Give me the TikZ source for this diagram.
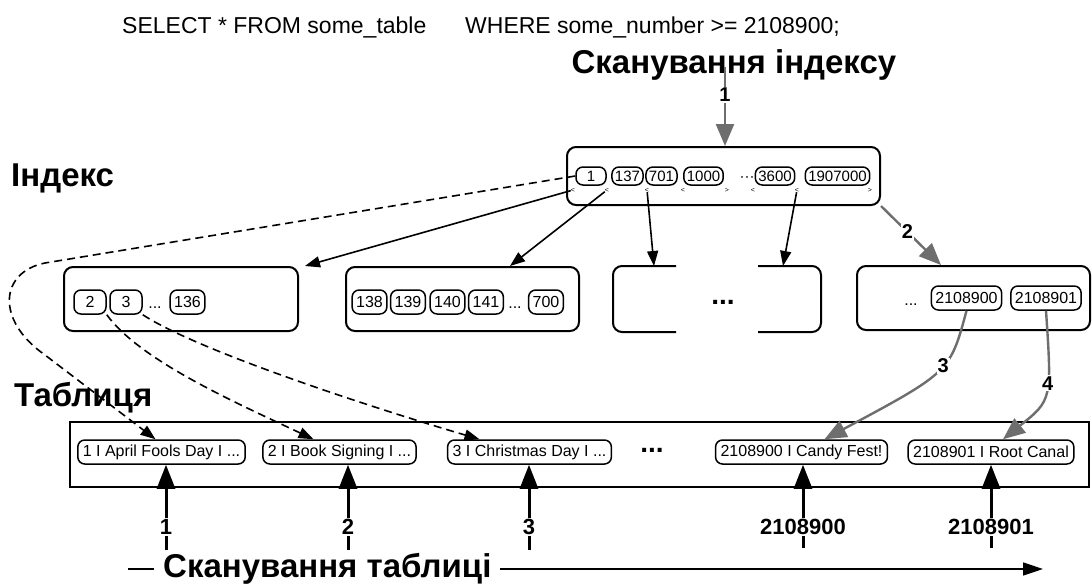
\documentclass[tikz,border=0pt]{standalone}
\usepackage{fontspec}
\setmainfont{Liberation Sans}
\usetikzlibrary{arrows.meta,calc}

\definecolor{arrgray}{RGB}{110,110,110}

\tikzset{
  box/.style={draw, rounded corners=9pt, line width=2pt, minimum height=64pt, inner sep=0pt},
  key/.style={draw, rounded corners=7pt, line width=1.5pt, minimum height=24pt, minimum width=32pt,
    inner xsep=4pt, inner ysep=0pt, font=\fontsize{16}{16}\selectfont},
  rootkey/.style={key, minimum height=18pt, minimum width=30pt, inner xsep=3pt, font=\fontsize{15}{15}\selectfont},
  rowkey/.style={key, inner xsep=5pt},
  ptr/.style={inner sep=0pt, font=\fontsize{7}{7}\selectfont},
  smalldots/.style={inner sep=0pt, anchor=base, font=\fontsize{16}{16}\selectfont},
  bigdots/.style={inner sep=0pt, font=\bfseries\fontsize{28}{28}\selectfont},
  title/.style={inner sep=0pt, font=\bfseries\fontsize{33}{33}\selectfont},
  num/.style={text=black, fill=white, inner sep=1pt, font=\bfseries\fontsize{20}{20}\selectfont},
  link/.style={-{Triangle[length=15pt,width=11pt]}, line width=1.6pt},
  dlink/.style={link, dash pattern=on 8pt off 5pt},
  glink/.style={draw=arrgray, arrgray, -{Triangle[length=22pt,width=18pt]}, line width=2.4pt},
  scan/.style={-{Triangle[length=24pt,width=18pt]}, line width=3pt},
}

\begin{document}
\begin{tikzpicture}[x=1pt, y=-1pt]
  \fill[white] (0,0) rectangle (1092,586);
  \useasboundingbox (0,0) rectangle (1092,586);

  % запит
  \node[anchor=base west, inner sep=0pt, font=\fontsize{23}{23}\selectfont] (sql1) at (122,34) {SELECT * FROM some\_table};
  \node[anchor=base west, inner sep=0pt, font=\fontsize{23}{23}\selectfont] (sql2) at (465,34) {WHERE some\_number >= 2108900;};

  % підписи
  \node[title, anchor=base] (idxscan) at (734,74) {Сканування індексу};
  \node[title, anchor=base west] (idxlabel) at (11,186) {Індекс};
  \node[title, anchor=base west] (tbllabel) at (14,406) {Таблиця};

  % корінь індексу
  \node[box, minimum width=313pt, minimum height=58pt] (root) at (723.5,176) {};
  \node[rootkey] (k1) at (591,176) {1};
  \node[rootkey] (k137) at (627.5,176) {137};
  \node[rootkey] (k701) at (661.5,176) {701};
  \node[rootkey] (k1000) at (703.5,176) {1000};
  \node[inner sep=0pt, font=\fontsize{15}{15}\selectfont] (rdots) at (747,179) {···};
  \node[rootkey] (k3600) at (775,176) {3600};
  \node[rootkey] (k1907000) at (837.5,176) {1907000};
  % вказівники
  \node[ptr] (m1) at (573,190) {<};
  \node[ptr] (m2) at (607,190) {<};
  \node[ptr] (m3) at (647,190) {<};
  \node[ptr] (m4) at (683,190) {<};
  \node[ptr] (m5) at (727,190) {>};
  \node[ptr] (m6) at (753,190) {<};
  \node[ptr] (m7) at (797,190) {<};
  \node[ptr] (m8) at (870,190) {>};

  % листя
  \node[box, minimum width=234pt] (nA) at (181,299) {};
  \node[key] (k2) at (90,302) {2};
  \node[key] (k3) at (126,302) {3};
  \node[smalldots] (adots) at (155,308) {...};
  \node[key] (k136) at (187.5,302) {136};

  \node[box, minimum width=233pt] (nB) at (462.5,299) {};
  \node[key] (k138) at (369.5,302) {138};
  \node[key] (k139) at (408,302) {139};
  \node[key] (k140) at (447.5,302) {140};
  \node[key] (k141) at (486,302) {141};
  \node[smalldots] (bdots) at (515,308) {...};
  \node[key] (k700) at (546,302) {700};

  \node[box, draw=none, minimum width=206pt] (nC) at (717,299) {};
  \node[bigdots] (cdots) at (723,302) {...};
  \draw[rounded corners=9pt, line width=2pt] ($(nC.north west)+(63,0)$) -- (nC.north west) -- (nC.south west) -- ($(nC.south west)+(63,0)$);
  \draw[rounded corners=9pt, line width=2pt] ($(nC.north east)+(-63,0)$) -- (nC.north east) -- (nC.south east) -- ($(nC.south east)+(-63,0)$);

  \node[box, minimum width=233pt] (nD) at (973.5,298) {};
  \node[smalldots] (ddots) at (911,305) {...};
  \node[key] (k2108900) at (966.5,298) {2108900};
  \node[key] (k2108901) at (1046,298) {2108901};

  % таблиця
  \node[draw, line width=1.6pt, minimum width=1019pt, minimum height=65pt] (tbl) at (579.5,454.5) {};
  \node[rowkey] (r1) at (161.5,452) {1 I April Fools Day I ...};
  \node[rowkey] (r2) at (339.5,452) {2 I Book Signing I ...};
  \node[rowkey] (r3) at (529.5,452) {3 I Christmas Day I ...};
  \node[bigdots] (tdots) at (652,450) {...};
  \node[rowkey] (r2108900) at (801.5,452) {2108900 I Candy Fest!};
  \node[rowkey] (r2108901) at (991,452) {2108901 I Root Canal};

  % сканування індексу
  \coordinate (idxtop) at (725,67);
  \draw[glink] (idxtop) -- node[num, pos=0.35] {1} (idxtop |- root.north);
  \draw[glink] (root.south east) -- node[num, pos=0.44] {2} ($(nD.north west)+(85,0)$);
  \draw[glink] (k2108900.south) .. controls (950,372) .. ($(r2108900.north)+(23,0)$) node[num, pos=0.43] {3};
  \draw[glink] (k2108901.south) .. controls (1052,400) .. ($(r2108901.north)+(12,0)$) node[num, pos=0.4] {4};

  \draw[link] (m1) -- ($(nA.north east)+(6,0)$);
  \draw[link] (m2) -- ($(nB.north west)+(165,0)$);
  \draw[link] (m3) -- ($(nC.north west)+(41,0)$);
  \draw[link] (m7) -- ($(nC.north east)+(-38,0)$);

  % посилання на рядки
  \draw[dlink] (k1.west) -- (45,263) .. controls (0,272) and (-5,320) .. (45,355) -- ($(r1.north)+(-6,0)$);
  \draw[dlink] (k2.south east) .. controls (140,360) and (230,400) .. ($(r2.north)+(-26,0)$);
  \draw[dlink] (k3.south east) .. controls (200,352) and (380,410) .. ($(r3.north)+(-50,0)$);

  % сканування таблиці
  \coordinate (s1) at (166,550);
  \coordinate (s2) at (348,550);
  \coordinate (s3) at (529,550);
  \coordinate (s4) at (803,548);
  \coordinate (s5) at (991,548);
  \draw[scan] (s1) -- node[num, pos=0.27, font=\bfseries\fontsize{22}{22}\selectfont] {1} (s1 |- r1.south);
  \draw[scan] (s2) -- node[num, pos=0.27, font=\bfseries\fontsize{22}{22}\selectfont] {2} (s2 |- r2.south);
  \draw[scan] (s3) -- node[num, pos=0.27, font=\bfseries\fontsize{22}{22}\selectfont] {3} (s3 |- r3.south);
  \draw[scan] (s4) -- node[num, pos=0.25, font=\bfseries\fontsize{22}{22}\selectfont] {2108900} (s4 |- r2108900.south);
  \draw[scan] (s5) -- node[num, pos=0.25, font=\bfseries\fontsize{22}{22}\selectfont] {2108901} (s5 |- r2108901.south);

  \coordinate (tscan0) at (128,569);
  \coordinate (tscan1) at (1043,569);
  \draw[-{Triangle[length=20pt,width=13pt]}, line width=1.5pt] (tscan0) -- (tscan1);
  \node[title, fill=white, inner xsep=9pt, anchor=base west] (tblscan) at (154,577) {Сканування таблиці};
\end{tikzpicture}
\end{document}
